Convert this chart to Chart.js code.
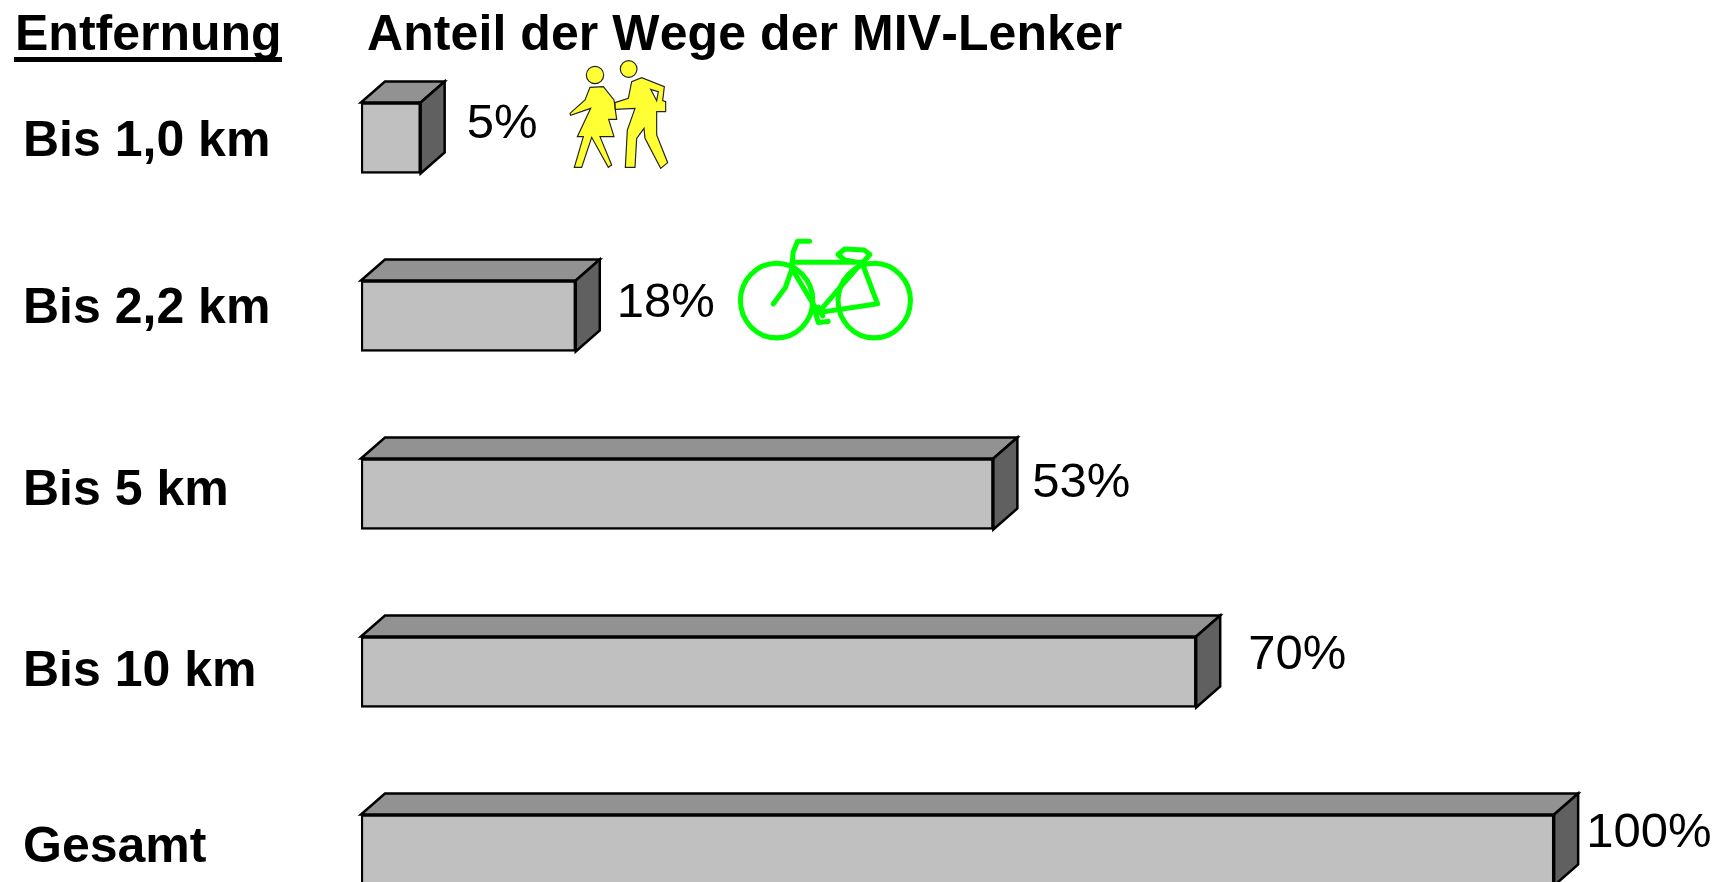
<!DOCTYPE html>
<html lang="de">
<head>
<meta charset="utf-8">
<title>Anteil der Wege der MIV-Lenker</title>
<script src="https://cdn.jsdelivr.net/npm/chart.js@4"></script>
<style>
html, body { margin: 0; padding: 0; width: 1720px; height: 882px; overflow: hidden; background: #fff; }
canvas { display: block; }
</style>
</head>
<body>
<canvas id="myChart" width="1720" height="972"></canvas>
<script>
const categories = ['Bis 1,0 km', 'Bis 2,2 km', 'Bis 5 km', 'Bis 10 km', 'Gesamt'];
const shares = [5, 18, 53, 70, 100];
const shareLabels = ['5%', '18%', '53%', '70%', '100%'];

// hand placement of the texts, the original slide was not regular
const tickNudge = [4, -7, -3, 0, -2];
const shareNudgeX = [46, 41, 39, 52, 32];
const shareNudgeY = [-14, -13, -11, -17, -17];

const FONT = '"Liberation Sans", Arial, sans-serif';
const DEPTH_X = 24;
const DEPTH_Y = 21;

function polygon(ctx, pts, fill) {
    ctx.beginPath();
    pts.forEach((p, i) => i ? ctx.lineTo(p[0], p[1]) : ctx.moveTo(p[0], p[1]));
    ctx.closePath();
    ctx.fillStyle = fill;
    ctx.fill();
    ctx.stroke();
}

// walking couple, drawn in crop coordinates of the slide
function drawWalkers(ctx) {
    ctx.save();
    ctx.translate(340, 50);
    ctx.scale(1 / 3, 1 / 3);
    ctx.fillStyle = '#ffff33';
    ctx.strokeStyle = '#222';
    ctx.lineWidth = 3.5;
    const woman = new Path2D('M690 190 L735 150 L750 112 L790 110 L822 150 L830 208 L806 208 L822 260 L780 260 L815 345 L805 352 L755 262 L725 352 L703 352 L730 260 L712 260 L752 175 L692 196 Z');
    const man = new Path2D('M825 158 L865 145 L875 95 L905 83 L973 110 L968 152 L977 155 L977 185 L950 185 L950 255 L983 338 L962 355 L915 265 L912 235 L890 265 L885 352 L856 352 L862 240 L885 175 L826 178 Z M932 118 L955 125 L950 152 Z');
    [woman, man].forEach(p => { ctx.fill(p, 'evenodd'); ctx.stroke(p); });
    [[765, 75, 26], [866, 57, 25]].forEach(h => {
        ctx.beginPath();
        ctx.arc(h[0], h[1], h[2], 0, Math.PI * 2);
        ctx.fill();
        ctx.stroke();
    });
    ctx.restore();
}

function drawBike(ctx) {
    ctx.save();
    ctx.scale(1720 / 1568, 1720 / 1568);
    ctx.strokeStyle = '#00ff00';
    ctx.lineWidth = 4.6;
    ctx.lineJoin = 'round';
    ctx.lineCap = 'round';
    ctx.beginPath();
    ctx.ellipse(708, 274, 33, 34, 0, 0, Math.PI * 2);
    ctx.moveTo(830, 274);
    ctx.ellipse(797, 274, 33, 34, 0, 0, Math.PI * 2);
    ctx.stroke();
    ctx.stroke(new Path2D('M738 220 L727 220 L723 230 L722 245 L716 262 L705 277 M722 239 L788 239 M722 245 L746 285 L785 240 M746 285 L800 277 L786 240 M764 232 L770 227 L788 228 L793 232 L786 240 L770 237 Z M742 280 L746 294 L755 293 M750 288 L746 280'));
    ctx.restore();
}

const boxFaces = {
    id: 'boxFaces',
    afterDatasetsDraw(chart) {
        const ctx = chart.ctx;
        const bars = chart.getDatasetMeta(0).data;
        ctx.save();
        ctx.strokeStyle = '#000';
        ctx.lineWidth = 2.5;
        ctx.lineJoin = 'miter';
        bars.forEach(bar => {
            const left = bar.base;
            const right = bar.x;
            const top = bar.y - bar.height / 2;
            const bottom = bar.y + bar.height / 2;
            polygon(ctx, [[left, top], [left + DEPTH_X, top - DEPTH_Y], [right + DEPTH_X, top - DEPTH_Y], [right, top]], '#929292');
            polygon(ctx, [[right, top], [right + DEPTH_X, top - DEPTH_Y], [right + DEPTH_X, bottom - DEPTH_Y], [right, bottom]], '#606060');
        });

        ctx.fillStyle = '#000';
        ctx.textBaseline = 'middle';
        ctx.textAlign = 'left';
        ctx.font = '49px ' + FONT;
        bars.forEach((bar, i) => {
            ctx.fillText(shareLabels[i], bar.x + shareNudgeX[i], bar.y + shareNudgeY[i]);
        });

        // headings
        ctx.font = 'bold 50px ' + FONT;
        ctx.textBaseline = 'alphabetic';
        ctx.fillText('Entfernung', 15, 50);
        ctx.fillRect(14, 57, 268, 5);
        ctx.fontKerning = 'none';
        ctx.letterSpacing = '0.08px';
        ctx.fillText('Anteil der Wege der MIV-Lenker', 367, 50);
        ctx.restore();

        drawWalkers(ctx);
        drawBike(ctx);
    }
};

const tickShift = {
    id: 'tickShift',
    afterUpdate(chart) {
        chart.scales.y.getLabelItems().forEach((item, i) => {
            item.options.translation[1] += tickNudge[i];
        });
    }
};

new Chart(document.getElementById('myChart').getContext('2d'), {
    type: 'bar',
    data: {
        labels: categories,
        datasets: [{
            data: shares,
            backgroundColor: '#c0c0c0',
            borderColor: '#000',
            borderWidth: 2.5,
            borderSkipped: false,
            barThickness: 71
        }]
    },
    options: {
        indexAxis: 'y',
        responsive: false,
        animation: false,
        layout: { padding: { left: 23, top: 49, right: 0, bottom: 2 } },
        plugins: {
            legend: { display: false },
            title: { display: false },
            tooltip: { enabled: false }
        },
        scales: {
            x: { display: false, min: 0, max: 113.9 },
            y: {
                border: { display: false },
                grid: { display: false },
                afterFit(scale) { scale.width = 338; },
                ticks: {
                    crossAlign: 'far',
                    color: '#000',
                    font: { family: FONT, size: 50, weight: 'bold' }
                }
            }
        }
    },
    plugins: [boxFaces, tickShift]
});
</script>
</body>
</html>
